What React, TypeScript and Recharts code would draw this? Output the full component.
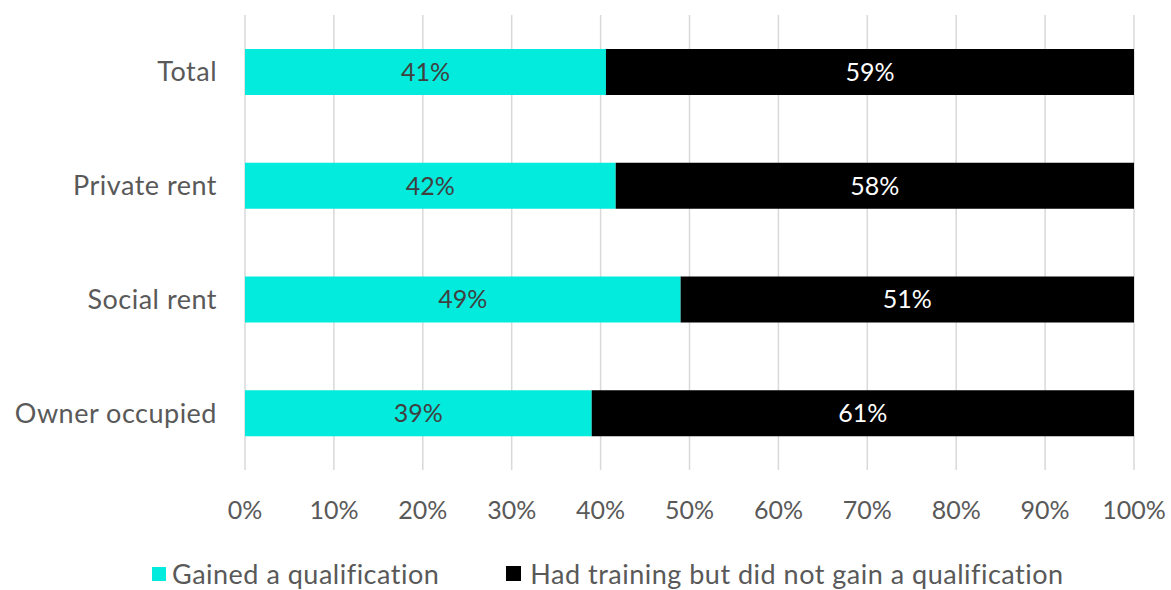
import React from 'react';
import { BarChart, Bar, XAxis, YAxis, CartesianGrid, Legend, LabelList } from 'recharts';

const categories = ['Total', 'Private rent', 'Social rent', 'Owner occupied'];
const gained = [40.6, 41.7, 49, 39];
const notGained = [59.4, 58.3, 51, 61];
const xTicks = [0, 10, 20, 30, 40, 50, 60, 70, 80, 90, 100];
const seriesNames = ['Gained a qualification', 'Had training but did not gain a qualification'];

const data = categories.map((c, i) => ({ name: c, gained: gained[i], notGained: notGained[i] }));

const FONT = 'Lato, "Open Sans", sans-serif';
const GREY = '#595959';

const LegendContent = () => (
  <div style={{ width: 1171, height: 45, display: 'flex', justifyContent: 'flex-start', alignItems: 'flex-end', paddingLeft: 152, boxSizing: 'border-box', fontFamily: FONT, fontSize: 27, letterSpacing: 0.5, color: GREY }}>
    <div style={{ display: 'flex', alignItems: 'center', marginRight: 67 }}>
      <span style={{ width: 14, height: 14, background: '#03EBDD', display: 'inline-block', marginRight: 6 }} />
      <span>{seriesNames[0]}</span>
    </div>
    <div style={{ display: 'flex', alignItems: 'center' }}>
      <span style={{ width: 15, height: 15, background: '#000000', display: 'inline-block', marginRight: 9 }} />
      <span>{seriesNames[1]}</span>
    </div>
  </div>
);

const pct = (v: number) => `${Math.round(v)}%`;

export default function App() {
  return (
    <div style={{ position: 'absolute', left: 0, top: 0, width: 1171, height: 590, background: '#fff' }}>
      <BarChart
        width={1171}
        height={590}
        data={data}
        layout="vertical"
        margin={{ top: 15, right: 37, bottom: 0, left: 0 }}
        barSize={46}
      >
        <CartesianGrid horizontal={false} stroke="#d9d9d9" strokeWidth={1.5} />
        <XAxis
          type="number"
          domain={[0, 100]}
          ticks={xTicks}
          tickFormatter={(v) => `${v}%`}
          axisLine={false}
          tickLine={false}
          tickSize={0}
          tickMargin={31}
          height={75}
          tick={{ fill: GREY, fontSize: 25, fontFamily: FONT }}
          interval={0}
        />
        <YAxis
          type="category"
          dataKey="name"
          width={245}
          axisLine={false}
          tickLine={false}
          tickSize={0}
          tickMargin={28}
          tick={{ fill: GREY, fontSize: 27, fontFamily: FONT, letterSpacing: 0.5 }}
        />
        <Legend verticalAlign="bottom" wrapperStyle={{ left: 0, width: 1171 }} content={<LegendContent />} />
        <Bar dataKey="gained" stackId="a" fill="#03EBDD" isAnimationActive={false}>
          <LabelList dataKey="gained" position="center" formatter={pct} fill="#404040" fontSize={25} fontFamily={FONT} />
        </Bar>
        <Bar dataKey="notGained" stackId="a" fill="#000000" isAnimationActive={false}>
          <LabelList dataKey="notGained" position="center" formatter={pct} fill="#ffffff" fontSize={25} fontFamily={FONT} />
        </Bar>
      </BarChart>
    </div>
  );
}
